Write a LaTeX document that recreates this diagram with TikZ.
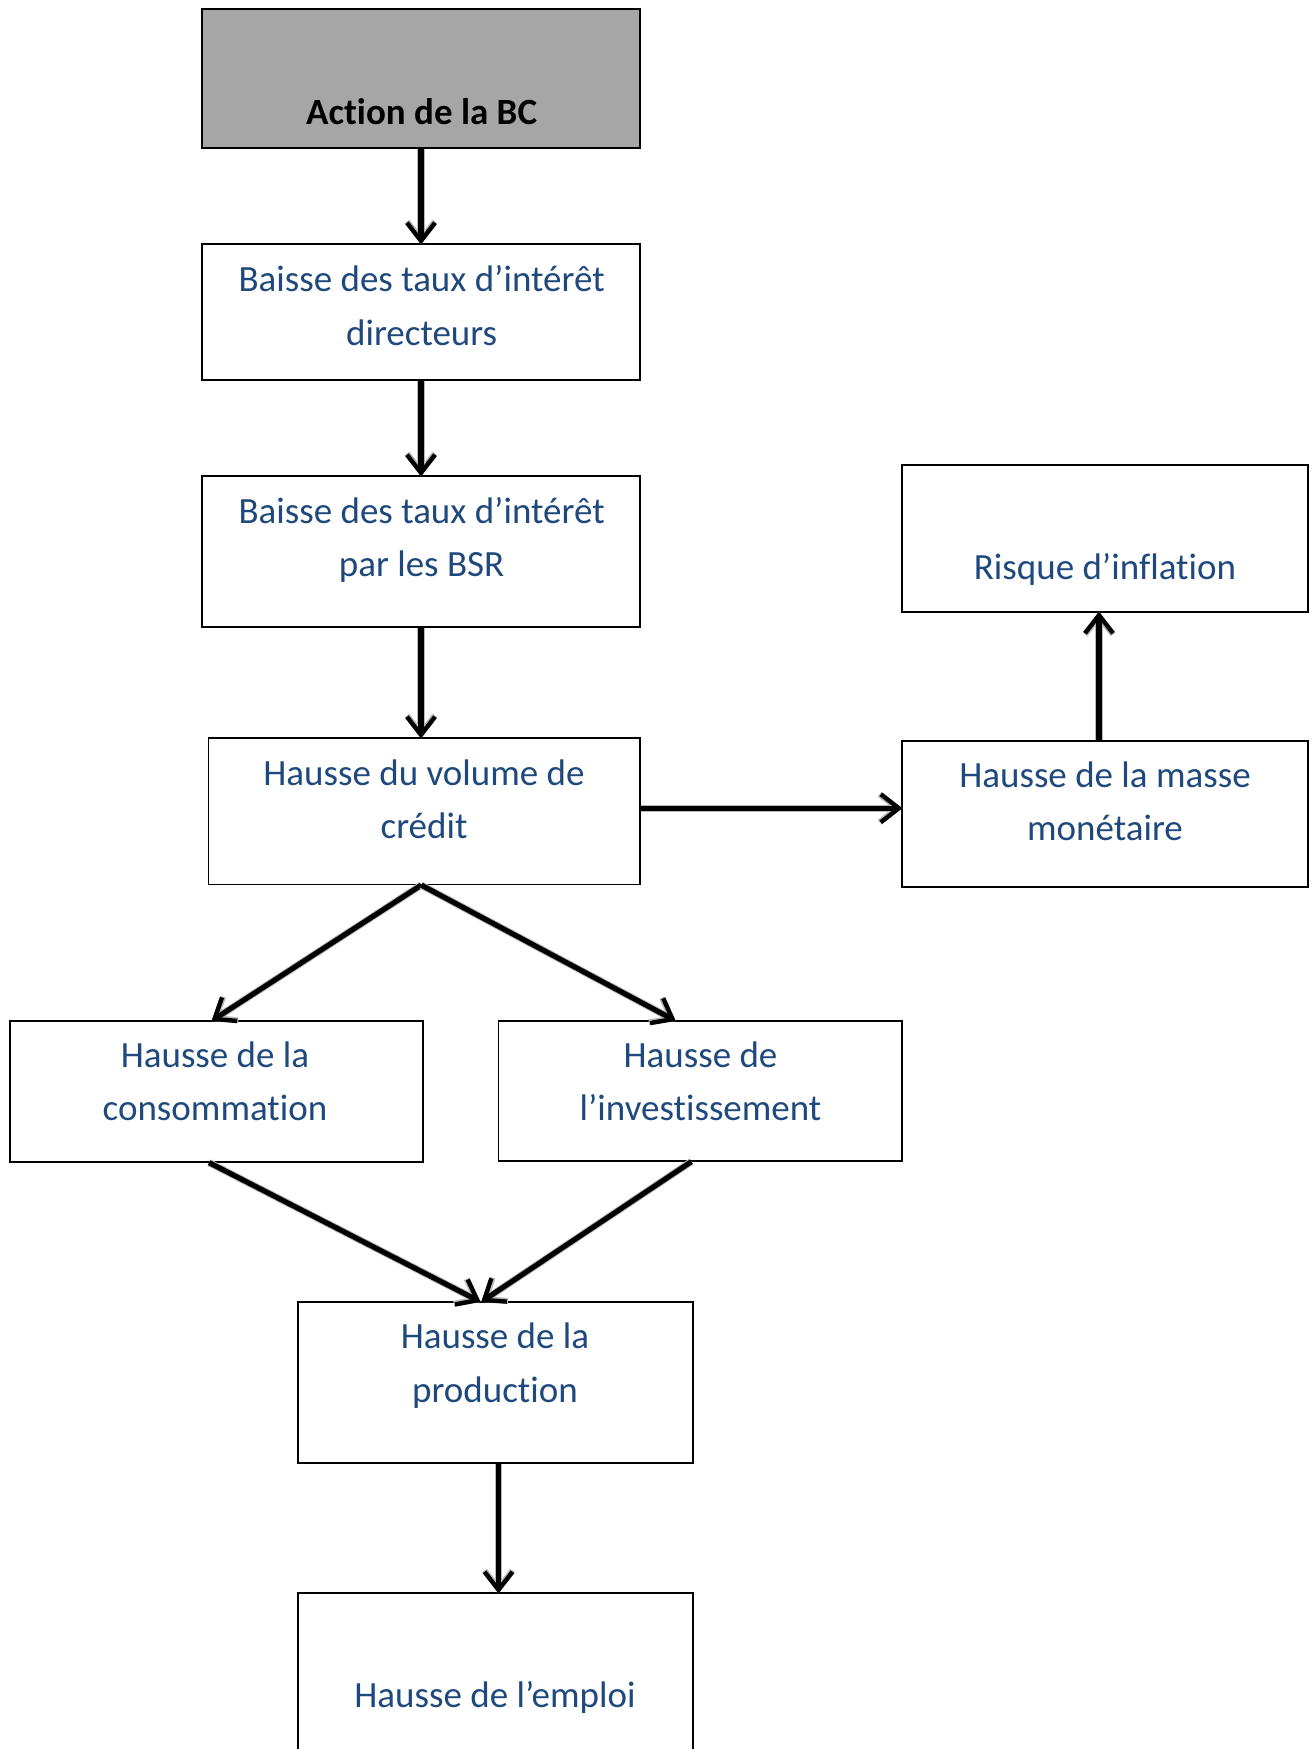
\documentclass[tikz,border=0pt]{standalone}
\usepackage{fontspec}
\setmainfont{Carlito}[RawFeature={-liga;-clig;-calt;-dlig}]
\usetikzlibrary{arrows.meta,fit,calc}
\definecolor{txtblue}{HTML}{1F497D}
\definecolor{boxgray}{HTML}{A6A6A6}
\tikzset{
  box/.style={draw=black, line width=0.6pt, inner sep=0pt, rectangle},
  lbl/.style={text=txtblue, align=center, inner sep=0pt, font=\fontsize{18.5}{26.75}\selectfont},
  conn/.style={line width=2.6pt, -{Straight Barb[length=9pt,width=14pt,line width=2.2pt]}, shorten >=-0.5pt,
    preaction={draw=gray!55, line width=3.6pt, -{Straight Barb[length=9pt,width=14pt,line width=3pt]}}}
}
\begin{document}
\begin{tikzpicture}[x=0.5pt,y=-0.5pt]
\useasboundingbox (0,0) rectangle (1314,1749);
\clip (0,0) rectangle (1314,1749);
% boxes
\node[box, fill=boxgray, fit={(202,9)(640,148)}] (act) {};
\node[box, fit={(202,244)(640,380)}] (b2) {};
\node[box, fit={(202,476)(640,627)}] (b3) {};
\node[box, fit={(208.6,738)(640,884.5)}] (vol) {};
\node[box, fit={(902,465)(1308,612)}] (risque) {};
\node[box, fit={(902,741)(1308,887)}] (masse) {};
\node[box, fit={(10,1021)(423,1162)}] (conso) {};
\node[box, fit={(498.6,1021)(902,1161)}] (inv) {};
\node[box, fit={(298,1302)(693,1463)}] (prod) {};
\node[box, fit={(298,1593)(693,1800)}] (emp) {};
% texts
\node[lbl, text=black, font=\bfseries\fontsize{18.5}{26.75}\selectfont] (tact) at (421.6,111.5) {Action de la BC};
\node[lbl] (tb2) at (421.6,305.7) {Baisse des taux d’intérêt\\directeurs};
\node[lbl] (tb3) at (421.6,539.8) {Baisse des taux d’intérêt\\par les BSR};
\node[lbl] (tvol) at (424,799.2) {Hausse du volume de\\crédit};
\node[lbl] (trisque) at (1105,569.9) {Risque d’inflation};
\node[lbl] (tmasse) at (1105,801.3) {Hausse de la masse\\monétaire};
\node[lbl] (tconso) at (215,1081.3) {Hausse de la\\consommation};
\node[lbl] (tinv) at (700.5,1081.3) {Hausse de\\l’investissement};
\node[lbl] (tprod) at (495,1365.6) {Hausse de la\\production};
\node[lbl] (temp) at (495,1697.6) {Hausse de l’emploi};
% connectors
\draw[conn] (act.south) -- (b2.north);
\draw[conn] (b2.south) -- (b3.north);
\draw[conn] (b3.south) -- (b3.south |- vol.north);
\draw[conn] ($(vol.east)+(0,-3)$) -- ($(vol.east -| masse.west)+(0,-3)$);
\draw[conn] ($(masse.north)+(-6,0)$) -- ($(risque.south)+(-6,0)$);
\draw[conn] ($(vol.south west)!0.493!(vol.south east)$) -- ($(conso.north west)!0.49!(conso.north east)$);
\draw[conn] ($(vol.south west)!0.493!(vol.south east)$) -- ($(inv.north west)!0.437!(inv.north east)$);
\draw[conn] ($(conso.south west)!0.482!(conso.south east)$) -- ($(prod.north west)!0.46!(prod.north east)$);
\draw[conn] ($(inv.south west)!0.478!(inv.south east)$) -- ($(prod.north west)!0.466!(prod.north east)$);
\draw[conn] ($(prod.south)+(3,0)$) -- ($(emp.north)+(3,0)$);
\end{tikzpicture}
\end{document}
